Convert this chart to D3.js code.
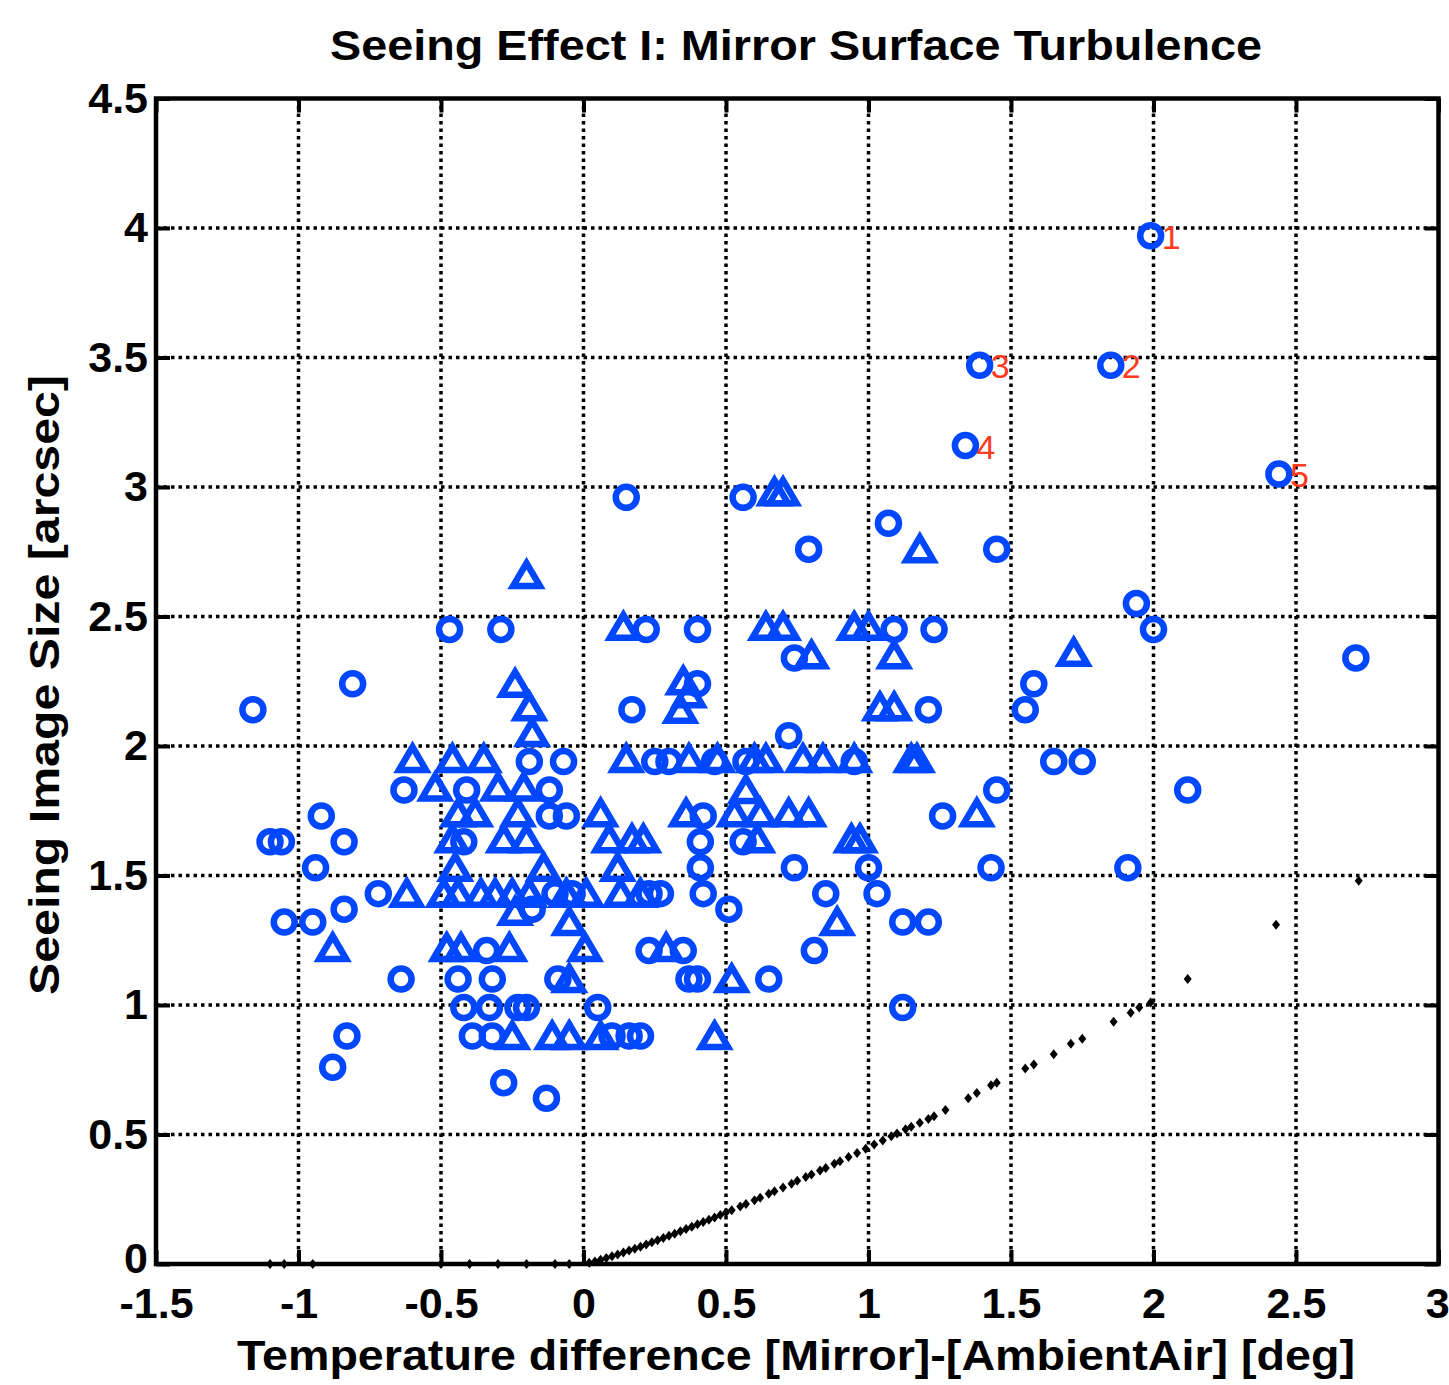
<!DOCTYPE html>
<html>
<head>
<meta charset="utf-8">
<script src="https://cdn.jsdelivr.net/npm/d3@7"></script>
<style>
  html, body { margin: 0; padding: 0; background: #fff; }
  svg { display: block; }
  text { font-family: "Liberation Sans", Arial, Helvetica, sans-serif; }
</style>
</head>
<body>
<svg id="chart" width="1449" height="1385"></svg>
<script>
// ---------------- DATA ----------------
const titleText = "Seeing Effect I: Mirror Surface Turbulence";
const xLabelText = "Temperature difference [Mirror]-[AmbientAir] [deg]";
const yLabelText = "Seeing Image Size [arcsec]";

const xTicks = [-1.5, -1, -0.5, 0, 0.5, 1, 1.5, 2, 2.5, 3];
const xTickLabels = ["-1.5", "-1", "-0.5", "0", "0.5", "1", "1.5", "2", "2.5", "3"];
const yTicks = [0, 0.5, 1, 1.5, 2, 2.5, 3, 3.5, 4, 4.5];
const yTickLabels = ["0", "0.5", "1", "1.5", "2", "2.5", "3", "3.5", "4", "4.5"];

// labelled outliers (circles with red numbers)
const labelledX = [1.99, 1.85, 1.39, 1.34, 2.44];
const labelledY = [3.97, 3.47, 3.47, 3.16, 3.05];
const labelledText = ["1", "2", "3", "4", "5"];

// circle series [x, y]
const circlePts = [
  [0.15, 2.96], [0.56, 2.96], [1.07, 2.86], [0.79, 2.76], [1.45, 2.76],
  [1.94, 2.55], [2.0, 2.45], [2.71, 2.34], [-0.47, 2.45], [-0.29, 2.45],
  [0.22, 2.45], [0.40, 2.45], [1.09, 2.45], [1.23, 2.45], [0.74, 2.34],
  [-0.81, 2.24], [-1.16, 2.14], [0.17, 2.14], [0.40, 2.24], [1.58, 2.24],
  [1.55, 2.14], [1.21, 2.14], [0.72, 2.04], [-0.07, 1.94], [-0.19, 1.94],
  [0.25, 1.94], [0.30, 1.94], [0.46, 1.94], [0.57, 1.94], [0.95, 1.94],
  [1.65, 1.94], [1.75, 1.94], [2.12, 1.83], [1.45, 1.83], [1.26, 1.73],
  [1.43, 1.53], [1.91, 1.53], [-0.63, 1.83], [-0.41, 1.83], [-0.12, 1.83],
  [-0.12, 1.73], [-0.06, 1.73], [-0.42, 1.63], [-0.92, 1.73], [-1.10, 1.63],
  [-1.06, 1.63], [-0.84, 1.63], [-0.94, 1.53], [0.42, 1.73], [0.41, 1.63],
  [0.56, 1.63], [0.41, 1.53], [0.74, 1.53], [1.0, 1.53], [0.42, 1.43],
  [0.51, 1.37], [0.85, 1.43], [1.03, 1.43], [0.23, 1.43], [0.27, 1.43],
  [-0.72, 1.43], [-1.05, 1.32], [-0.95, 1.32], [-0.84, 1.37], [1.12, 1.32],
  [1.21, 1.32], [0.81, 1.21], [0.65, 1.10], [-0.64, 1.10], [-0.34, 1.21],
  [-0.44, 1.10], [-0.32, 1.10], [-0.09, 1.10], [-0.42, 0.99], [-0.33, 0.99],
  [-0.23, 0.99], [-0.20, 0.99], [0.05, 0.99], [1.12, 0.99], [-0.39, 0.88],
  [-0.32, 0.88], [0.10, 0.88], [0.16, 0.88], [0.20, 0.88], [-0.28, 0.70],
  [-0.13, 0.64], [-0.83, 0.88], [-0.88, 0.76], [0.23, 1.21], [0.35, 1.21],
  [0.37, 1.10], [0.40, 1.10], [-0.10, 1.43], [-0.04, 1.43], [-0.18, 1.37]
];

// triangle series [x, y]
const trianglePts = [
  [0.67, 2.98], [0.70, 2.98], [1.18, 2.76], [-0.20, 2.66], [0.14, 2.46],
  [0.64, 2.46], [0.70, 2.46], [0.95, 2.46], [1.0, 2.46], [0.80, 2.35],
  [1.09, 2.35], [1.72, 2.36], [-0.24, 2.24], [-0.19, 2.15], [-0.18, 2.05],
  [0.35, 2.25], [0.34, 2.14], [0.37, 2.20], [1.04, 2.15], [1.09, 2.15],
  [1.15, 1.95], [1.17, 1.95], [-0.60, 1.95], [-0.46, 1.95], [-0.35, 1.95],
  [0.15, 1.95], [0.37, 1.95], [0.47, 1.95], [0.60, 1.95], [0.64, 1.95],
  [0.77, 1.95], [0.84, 1.95], [0.95, 1.95],
  [-0.52, 1.84], [-0.30, 1.84], [-0.21, 1.84], [0.57, 1.83],
  [-0.44, 1.74], [-0.38, 1.74], [-0.23, 1.74], [0.36, 1.74], [0.53, 1.74],
  [0.62, 1.74], [0.72, 1.74], [0.79, 1.74], [1.38, 1.74], [0.06, 1.74],
  [-0.46, 1.64], [-0.28, 1.64], [-0.20, 1.64], [0.09, 1.64], [0.17, 1.64],
  [0.21, 1.64], [0.94, 1.64], [0.97, 1.64], [0.61, 1.64],
  [-0.45, 1.53], [-0.14, 1.53], [0.12, 1.53],
  [-0.62, 1.43], [-0.49, 1.43], [-0.44, 1.43], [-0.36, 1.43], [-0.31, 1.43],
  [-0.25, 1.43], [-0.19, 1.43], [-0.06, 1.43], [0.01, 1.43], [0.13, 1.43],
  [0.20, 1.43],
  [-0.24, 1.36], [-0.05, 1.32], [0.005, 1.22], [-0.48, 1.22], [-0.43, 1.22],
  [-0.26, 1.22], [0.29, 1.22], [-0.05, 1.10], [-0.25, 0.88], [-0.11, 0.88],
  [-0.05, 0.88], [0.06, 0.88], [0.46, 0.88], [0.52, 1.10], [0.89, 1.32],
  [-0.88, 1.22]
];

// black fitted-curve points
const curveX = [-1.10, -1.05, -0.95, -0.50, -0.40, -0.30, -0.20, -0.10, -0.05,
  0.02, 0.04, 0.06, 0.08, 0.10, 0.12, 0.14, 0.16, 0.18, 0.20, 0.22, 0.24, 0.26,
  0.28, 0.30, 0.32, 0.34, 0.36, 0.38, 0.40, 0.42, 0.44, 0.46, 0.48, 0.50, 0.52,
  0.55, 0.57, 0.60, 0.62, 0.65, 0.67, 0.70, 0.73, 0.75, 0.78, 0.80, 0.83, 0.85,
  0.88, 0.90, 0.93, 0.96, 0.99, 1.02, 1.05, 1.08, 1.10, 1.13, 1.15, 1.18, 1.21,
  1.23, 1.27, 1.35, 1.38, 1.43, 1.45, 1.55, 1.58, 1.65, 1.71, 1.75, 1.86, 1.92,
  1.95, 1.99, 2.12, 2.43, 2.72];
const curveY = [0, 0, 0, 0, 0, 0, 0, 0, 0,
  0.005, 0.010, 0.016, 0.023, 0.030, 0.037, 0.044, 0.052, 0.059, 0.067, 0.075,
  0.084, 0.092, 0.100, 0.109, 0.117, 0.126, 0.135, 0.144, 0.153, 0.162, 0.171,
  0.180, 0.189, 0.199, 0.208, 0.222, 0.232, 0.246, 0.256, 0.271, 0.281, 0.295,
  0.310, 0.321, 0.336, 0.346, 0.361, 0.371, 0.387, 0.397, 0.413, 0.429, 0.445,
  0.461, 0.477, 0.493, 0.504, 0.520, 0.530, 0.545, 0.560, 0.570, 0.595, 0.640,
  0.660, 0.690, 0.700, 0.755, 0.770, 0.810, 0.850, 0.870, 0.935, 0.970, 0.990,
  1.010, 1.100, 1.310, 1.480];

// ---------------- CHART ----------------
const W = 1449, H = 1385;
const plot = { left: 156, right: 1438.5, top: 98.5, bottom: 1264 };
const blue = "#0047ff";
const red = "#ff3b1e";

const svg = d3.select("#chart");
svg.append("rect").attr("width", W).attr("height", H).attr("fill", "#fff");

const x = d3.scaleLinear().domain([-1.5, 3]).range([plot.left, plot.right]);
const y = d3.scaleLinear().domain([0, 4.5]).range([plot.bottom, plot.top]);

// grid (dotted)
const grid = svg.append("g").attr("class", "grid");
grid.selectAll("line.vx").data(xTicks.slice(1, -1)).join("line")
  .attr("x1", d => x(d)).attr("x2", d => x(d))
  .attr("y1", plot.top).attr("y2", plot.bottom)
  .attr("stroke", "#000").attr("stroke-width", 3.5).attr("stroke-dasharray", "3.5,4");
grid.selectAll("line.hy").data(yTicks.slice(1, -1)).join("line")
  .attr("y1", d => y(d)).attr("y2", d => y(d))
  .attr("x1", plot.left).attr("x2", plot.right)
  .attr("stroke", "#000").attr("stroke-width", 3.5).attr("stroke-dasharray", "3.5,4");

// black curve points (small diamonds)
const curve = curveX.map((v, i) => [v, curveY[i]]);
svg.append("g").selectAll("path").data(curve).join("path")
  .attr("transform", d => `translate(${x(d[0])},${y(d[1])})`)
  .attr("d", "M0,-5L4,0L0,5L-4,0Z")
  .attr("fill", "#000");

// circles
const circles = circlePts.concat(labelledX.map((v, i) => [v, labelledY[i]]));
svg.append("g").selectAll("circle").data(circles).join("circle")
  .attr("cx", d => x(d[0])).attr("cy", d => y(d[1]))
  .attr("r", 10.5)
  .attr("fill", "none").attr("stroke", blue).attr("stroke-width", 6.5);

// triangles
svg.append("g").selectAll("path").data(trianglePts).join("path")
  .attr("transform", d => `translate(${x(d[0])},${y(d[1])})`)
  .attr("d", "M0,-12L13.5,11L-13.5,11Z")
  .attr("fill", "none").attr("stroke", blue).attr("stroke-width", 6.5)
  .attr("stroke-linejoin", "miter");

// red outlier labels
svg.append("g").selectAll("text").data(labelledText).join("text")
  .attr("x", (d, i) => x(labelledX[i]) + 11)
  .attr("y", (d, i) => y(labelledY[i]) + 13)
  .attr("fill", red).attr("font-size", 34)
  .text(d => d);

// axes with inward ticks
const fmtX = (d, i) => xTickLabels[i];
const fmtY = (d, i) => yTickLabels[i];

const axB = svg.append("g").attr("transform", `translate(0,${plot.bottom})`)
  .call(d3.axisBottom(x).tickValues(xTicks).tickFormat(fmtX).tickSize(-14).tickPadding(23));
const axL = svg.append("g").attr("transform", `translate(${plot.left},0)`)
  .call(d3.axisLeft(y).tickValues(yTicks).tickFormat(fmtY).tickSize(-14).tickPadding(8));
const axT = svg.append("g").attr("transform", `translate(0,${plot.top})`)
  .call(d3.axisTop(x).tickValues(xTicks).tickFormat("").tickSize(-14));
const axR = svg.append("g").attr("transform", `translate(${plot.right},0)`)
  .call(d3.axisRight(y).tickValues(yTicks).tickFormat("").tickSize(-14));

[axB, axL, axT, axR].forEach(a => {
  a.select(".domain").remove();
  a.selectAll(".tick line").attr("stroke", "#000").attr("stroke-width", 4);
  a.selectAll("text").attr("fill", "#000").attr("font-size", 43).attr("font-weight", "bold")
    .attr("font-family", "'Liberation Sans', Arial, sans-serif");
});
// keep the lowest y label clear of the x labels
axL.selectAll(".tick text").filter(d => d === 0).attr("dy", "0.2em");
// keep the last x label inside the window
axB.selectAll(".tick text").filter(d => d === 3).attr("text-anchor", "end").attr("dx", "0.25em");

// frame
svg.append("rect")
  .attr("x", plot.left).attr("y", plot.top)
  .attr("width", plot.right - plot.left).attr("height", plot.bottom - plot.top)
  .attr("fill", "none").attr("stroke", "#000").attr("stroke-width", 4.5);

// title and axis labels
svg.append("text").attr("x", 796).attr("y", 60)
  .attr("text-anchor", "middle").attr("font-size", 42).attr("font-weight", "bold")
  .attr("textLength", 932).attr("lengthAdjust", "spacingAndGlyphs")
  .text(titleText);
svg.append("text").attr("x", 796).attr("y", 1370)
  .attr("text-anchor", "middle").attr("font-size", 42).attr("font-weight", "bold")
  .attr("textLength", 1118).attr("lengthAdjust", "spacingAndGlyphs")
  .text(xLabelText);
svg.append("text")
  .attr("transform", `translate(59,685) rotate(-90)`)
  .attr("text-anchor", "middle").attr("font-size", 42).attr("font-weight", "bold")
  .attr("textLength", 620).attr("lengthAdjust", "spacingAndGlyphs")
  .text(yLabelText);
</script>
</body>
</html>
